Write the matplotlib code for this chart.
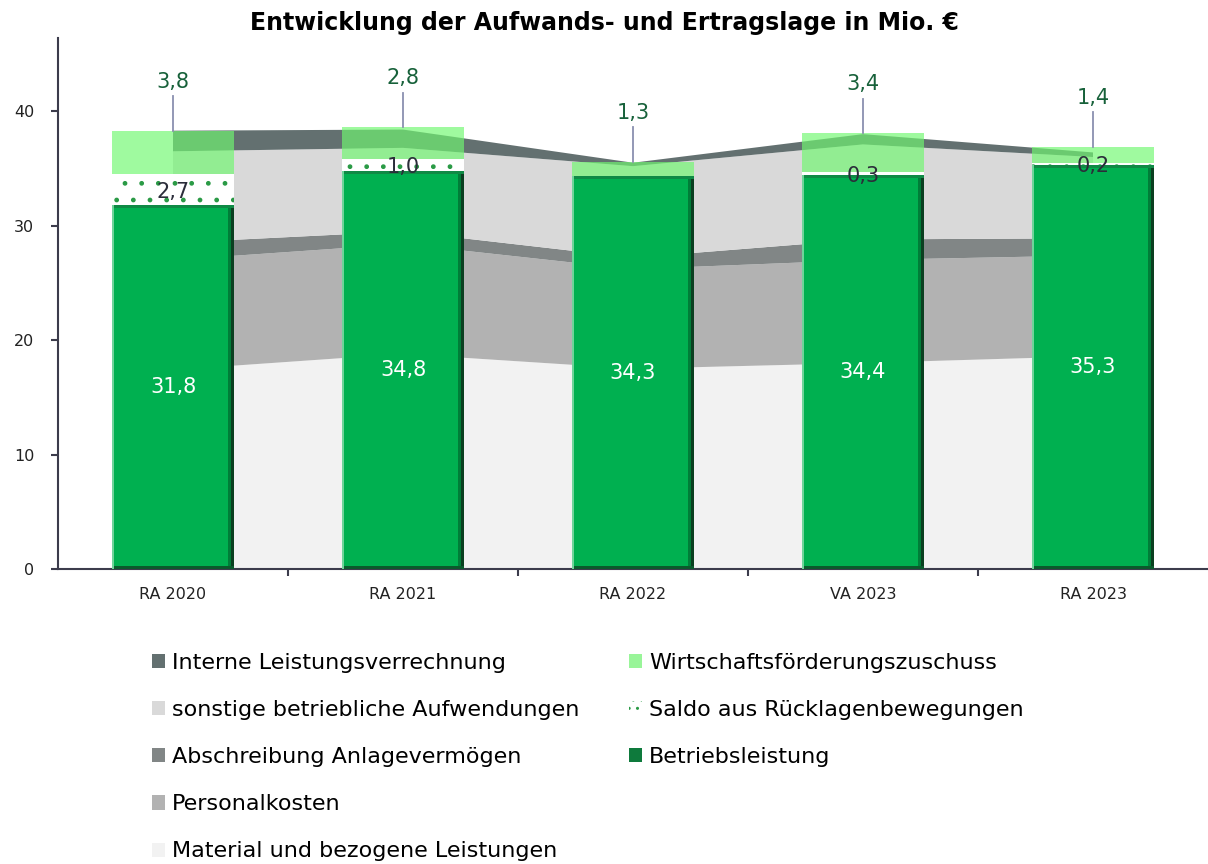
import numpy as np
import matplotlib
matplotlib.use("Agg")
import matplotlib.pyplot as plt
from matplotlib.patches import Rectangle, Patch

# Daten (Mio. €)
kategorien = ["RA 2020", "RA 2021", "RA 2022", "VA 2023", "RA 2023"]

# Aufwand (gestapelte Flächen, von unten nach oben)
material = [17.4, 18.8, 17.5, 18.0, 18.6]
personal = [9.6, 9.6, 8.7, 9.0, 8.8]
abschreibung = [1.5, 1.1, 1.0, 1.8, 1.5]
sonstige = [8.0, 7.3, 8.0, 8.3, 7.1]
interne = [1.8, 1.6, 0.3, 0.9, 0.4]

# Ertrag (gestapelte Säulen)
betriebsleistung = [31.8, 34.8, 34.3, 34.4, 35.3]
saldo = [2.7, 1.0, 0.0, 0.3, 0.2]
zuschuss = [3.8, 2.8, 1.3, 3.4, 1.4]

def fmt(v):
    return f"{v:.1f}".replace(".", ",")

# Farben
c_material = "#f2f2f2"
c_personal = "#b2b2b2"
c_abschr = "#818686"
c_sonst = "#d9d9d9"
c_intern = "#637070"
c_gruen = "#00b050"
c_zuschuss = "#70f870"

plt.rcParams["font.family"] = "DejaVu Sans"
plt.rcParams["hatch.linewidth"] = 1.0

fig = plt.figure(figsize=(12.08, 8.64), dpi=100)
ax = fig.add_axes([58 / 1208, 295 / 864, 1150 / 1208, 531 / 864])

x = np.arange(len(kategorien))
ax.stackplot(x, material, personal, abschreibung, sonstige, interne,
             colors=[c_material, c_personal, c_abschr, c_sonst, c_intern],
             linewidth=0, zorder=1)

breite = 0.53
b = np.array(betriebsleistung)
s = np.array(saldo)
z = np.array(zuschuss)

ax.bar(x, b, width=breite, color=c_gruen, linewidth=0, zorder=3)
# Kanteneffekt der Säulen
for xi, hi in zip(x, b):
    ax.add_patch(Rectangle((xi + breite / 2 - 0.028, 0), 0.028, hi,
                           color="#007d38", linewidth=0, zorder=4))
    ax.add_patch(Rectangle((xi + breite / 2 - 0.011, 0), 0.011, hi,
                           color="#0b3f20", linewidth=0, zorder=4))
    ax.add_patch(Rectangle((xi - breite / 2, 0), breite, 0.3,
                           color="#0a5a2c", linewidth=0, zorder=4))
    ax.add_patch(Rectangle((xi - breite / 2, hi - 0.25), breite, 0.25,
                           color="#0f8a45", linewidth=0, zorder=4))
    ax.add_patch(Rectangle((xi - breite / 2, 0), 0.008, hi,
                           color="#6fd49a", linewidth=0, zorder=4))

ax.bar(x, s, width=breite, bottom=b, facecolor="white", edgecolor="#2a9a45",
       hatch=".", linewidth=0, zorder=3)
ax.bar(x, z, width=breite, bottom=b + s, color=c_zuschuss, alpha=0.67,
       linewidth=0, zorder=5)

# Beschriftungen
for xi, hi in zip(x, b):
    ax.text(xi, hi / 2, fmt(hi), color="white", fontsize=15,
            ha="center", va="center", zorder=6)
for xi, bi, si in zip(x, b, s):
    if si > 0:
        ax.text(xi, bi + max(si / 2, 0.15) - 0.2, fmt(si), color="#2b2d3a",
                fontsize=15, ha="center", va="center", zorder=6)
for xi, top, zi in zip(x, b + s + z, z):
    ax.plot([xi, xi], [top, top + 3.0], color="#8a90b0", linewidth=1.3, zorder=6)
    ax.text(xi, top + 3.4, fmt(zi), color="#17613a", fontsize=15,
            ha="center", va="bottom", zorder=6)

ax.set_xlim(-0.5, len(kategorien) - 0.5)
ax.set_ylim(0, 46.4)
ax.set_yticks([0, 10, 20, 30, 40])
ax.set_xticks(x)
ax.set_xticklabels(kategorien)
ax.set_xticks(np.arange(0.5, len(kategorien) - 0.5, 1), minor=True)
ax.tick_params(axis="x", which="major", length=0, labelsize=11.5, pad=13,
               labelcolor="#222222")
ax.tick_params(axis="x", which="minor", length=5, width=1.5, color="#3c3c4c",
               direction="out")
ax.tick_params(axis="y", length=5, width=1.5, color="#3c3c4c", labelsize=11.5,
               pad=12, labelcolor="#222222")
for side in ["top", "right"]:
    ax.spines[side].set_visible(False)
for side in ["left", "bottom"]:
    ax.spines[side].set_color("#3c3c4c")
    ax.spines[side].set_linewidth(1.5)

fig.text(0.5, 1 - 23 / 864, "Entwicklung der Aufwands- und Ertragslage in Mio. €",
         ha="center", va="center", fontsize=17, fontweight="bold")

# Legende in zwei Spalten
links = [
    Patch(facecolor=c_intern, label="Interne Leistungsverrechnung"),
    Patch(facecolor=c_sonst, label="sonstige betriebliche Aufwendungen"),
    Patch(facecolor=c_abschr, label="Abschreibung Anlagevermögen"),
    Patch(facecolor=c_personal, label="Personalkosten"),
    Patch(facecolor=c_material, label="Material und bezogene Leistungen"),
]
rechts = [
    Patch(facecolor="#99f599", label="Wirtschaftsförderungszuschuss"),
    Patch(facecolor="white", edgecolor="#2a9a45", hatch="..", linewidth=0,
          label="Saldo aus Rücklagenbewegungen"),
    Patch(facecolor="#0e7a3c", label="Betriebsleistung"),
]
opts = dict(frameon=False, fontsize=16, handlelength=0.6, handleheight=0.6,
            handletextpad=0.3, labelspacing=1.22, borderpad=0, borderaxespad=0,
            loc="upper left")
fig.legend(handles=links, bbox_to_anchor=(152 / 1208, 1 - 653 / 864), **opts)
fig.legend(handles=rechts, bbox_to_anchor=(629 / 1208, 1 - 653 / 864), **opts)

fig.savefig("out.png", dpi=100)
